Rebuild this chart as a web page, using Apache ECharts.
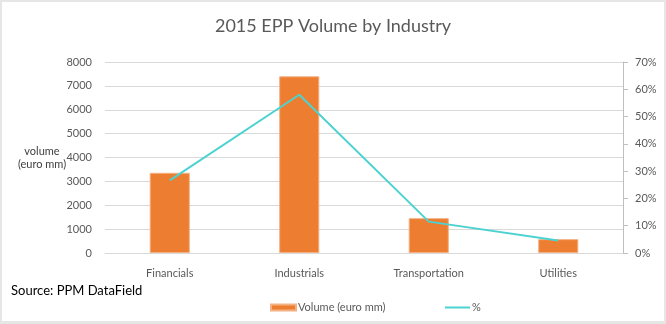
<!DOCTYPE html>
<html>
<head>
<meta charset="utf-8">
<script src="https://cdn.jsdelivr.net/npm/echarts@6/dist/echarts.min.js"></script>
<style>
html,body{margin:0;padding:0;background:#e6e6e6;}
#card{position:absolute;left:2px;top:2px;width:662px;height:319px;background:#fff;}
#main{position:absolute;left:0;top:0;width:666px;height:324px;}
</style>
</head>
<body>
<div id="card"></div>
<div id="main"></div>
<script>
const categories = ['Financials', 'Industrials', 'Transportation', 'Utilities'];
const volume = [3360, 7400, 1460, 580];
const pct = [26.6, 58, 11.5, 4.6];
const leftTicks = [0, 8000, 1000];
const rightTicks = [0, 70, 10];

const FONT = 'Lato';
const chart = echarts.init(document.getElementById('main'), null, {renderer: 'canvas'});
chart.setOption({
  backgroundColor: 'transparent',
  animation: false,
  textStyle: {fontFamily: FONT},
  title: {
    text: '2015 EPP Volume by Industry',
    left: 'center', top: 12,
    textStyle: {fontFamily: FONT, fontSize: 18, fontWeight: 'normal', color: '#595959'}
  },
  grid: {left: 105, right: 43, top: 62, bottom: 71},
  legend: [
    {
      data: [{name: 'Volume (euro mm)', icon: 'rect'}],
      left: 265, top: 297, itemWidth: 25, itemHeight: 6, itemGap: 2,
      textStyle: {fontFamily: FONT, fontSize: 11, color: '#595959', padding: [0, 0, 0, -3]}
    },
    {
      data: [{name: '%', icon: 'rect'}],
      left: 440, top: 297, itemWidth: 25, itemHeight: 2,
      textStyle: {fontFamily: FONT, fontSize: 11, color: '#595959', padding: [0, 0, 0, -3]}
    }
  ],
  graphic: [
    {type: 'text', left: 11, top: 284,
     style: {text: 'Source: PPM DataField', font: '13px ' + FONT, fill: '#000'}},
    {type: 'text', x: 42, y: 145,
     style: {text: 'volume\n(euro mm)', font: '11px ' + FONT, fill: '#404040', align: 'center', lineHeight: 13}}
  ],
  xAxis: {
    type: 'category', data: categories,
    axisLine: {show: true, lineStyle: {color: '#d9d9d9'}},
    axisTick: {show: false},
    axisLabel: {color: '#595959', fontSize: 11, margin: 15, fontFamily: FONT}
  },
  yAxis: [
    {
      type: 'value', min: leftTicks[0], max: leftTicks[1], interval: leftTicks[2],
      axisLine: {show: false}, axisTick: {show: false},
      splitLine: {lineStyle: {color: '#d9d9d9'}},
      axisLabel: {color: '#595959', fontSize: 11, margin: 13, fontFamily: FONT, formatter: v => String(v)}
    },
    {
      type: 'value', min: rightTicks[0], max: rightTicks[1], interval: rightTicks[2],
      position: 'right',
      axisLine: {show: true, lineStyle: {color: '#bfbfbf'}},
      axisTick: {show: true, length: 5, lineStyle: {color: '#bfbfbf'}},
      splitLine: {show: false},
      axisLabel: {color: '#595959', fontSize: 11, margin: 12, fontFamily: FONT, formatter: v => v + '%'}
    }
  ],
  series: [
    {
      name: 'Volume (euro mm)', type: 'bar', data: volume, barWidth: '31%',
      itemStyle: {color: '#ED7D31', borderColor: '#F4B183', borderWidth: 1}
    },
    {
      name: '%', type: 'line', yAxisIndex: 1, data: pct,
      showSymbol: false, symbol: 'none',
      lineStyle: {color: '#4DD2D2', width: 2},
      itemStyle: {color: '#4DD2D2'}
    }
  ]
});
</script>
</body>
</html>
